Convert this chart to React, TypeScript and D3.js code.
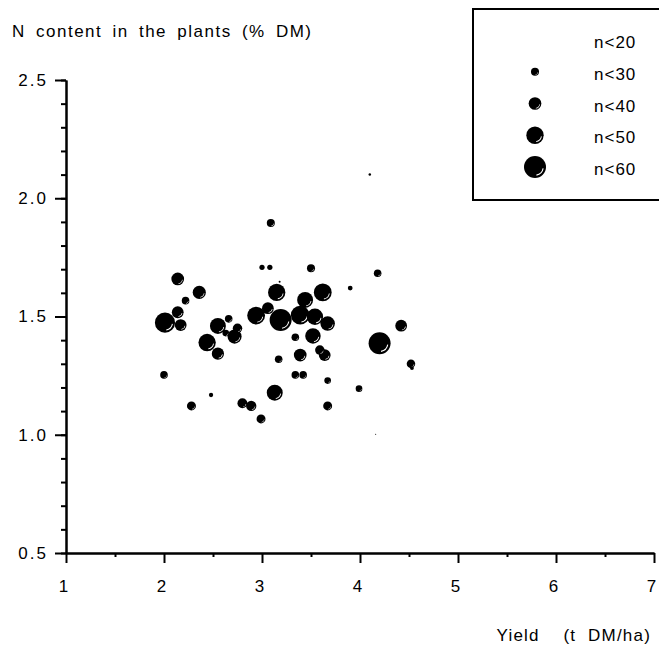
import React, { useEffect, useRef } from 'react';
import * as d3 from 'd3';

// yield (t DM/ha), N content (% DM) and number of samples per bubble
const yieldVals = [
  4.1, 3.09, 3.0, 3.08, 3.5, 3.18, 4.18, 3.9,
  2.14, 2.36, 2.22, 2.01, 2.14, 2.17, 2.55, 2.66, 2.75, 2.72, 2.63, 2.44, 2.55,
  2.94, 3.15, 3.62, 3.06, 3.19, 3.44, 3.39, 3.54, 3.67, 3.34, 3.52, 3.59, 3.64,
  3.39, 3.17, 4.42, 4.2, 4.52, 4.53, 2.0, 3.34, 3.42, 3.67, 3.99, 2.48, 3.13,
  2.28, 2.8, 2.89, 3.67, 2.99, 4.16,
];
const nContent = [
  2.1, 1.895, 1.708, 1.708, 1.704, 1.647, 1.683, 1.62,
  1.659, 1.602, 1.567, 1.474, 1.518, 1.464, 1.46, 1.49, 1.45, 1.415, 1.43, 1.39, 1.343,
  1.504, 1.602, 1.602, 1.535, 1.485, 1.57, 1.506, 1.499, 1.47, 1.412, 1.418, 1.358, 1.337,
  1.337, 1.319, 1.461, 1.387, 1.3, 1.282, 1.253, 1.253, 1.253, 1.229, 1.195, 1.168, 1.178,
  1.122, 1.133, 1.122, 1.122, 1.067, 1.002,
];
const sampleN = [
  13, 25, 19, 19, 25, 12, 24, 18,
  35, 36, 24, 51, 33, 33, 42, 24, 28, 38, 22, 45, 34,
  46, 45, 46, 33, 55, 42, 48, 43, 39, 24, 41, 28, 33,
  35, 24, 33, 55, 26, 16, 24, 24, 24, 22, 22, 17, 42,
  27, 29, 30, 27, 27, 10,
];

const xTicks = [1, 2, 3, 4, 5, 6, 7];
const xMinor = [1.5, 2.5, 3.5, 4.5, 5.5, 6.5];
const yTicks = [0.5, 1.0, 1.5, 2.0, 2.5];
const yMinor = d3.range(5, 26).map(v => v / 10);

const legendLabels = ['n<20', 'n<30', 'n<40', 'n<50', 'n<60'];
const legendN = [7.7, 25, 35, 45, 55];

const W = 659;
const H = 646;
const FONT = '"Liberation Sans", Arial, Helvetica, sans-serif';

export default function App() {
  const svgRef = useRef<SVGSVGElement>(null);

  useEffect(() => {
    if (!svgRef.current) return;
    const svg = d3.select(svgRef.current);
    svg.selectAll('*').remove();

    const x = d3.scaleLinear().domain([1, 7]).range([66, 654]);
    const y = d3.scaleLinear().domain([0.5, 2.5]).range([553, 80]);
    const r = d3.scaleLinear().domain([7.7, 55]).range([0, 11]).clamp(true);
    const deg = Math.PI / 180;
    const shine = d3.arc();

    const styleAxis = (g: any) => {
      g.select('.domain').attr('stroke', '#000').attr('stroke-width', 2);
      g.selectAll('.tick line').attr('stroke', '#000').attr('stroke-width', 2);
      g.selectAll('.tick text')
        .attr('fill', '#000')
        .style('font-family', FONT)
        .style('font-size', '17px')
        .style('letter-spacing', '2px');
    };

    // y axis
    svg.append('g')
      .attr('transform', 'translate(66,0)')
      .call(d3.axisLeft(y).tickValues(yMinor).tickSize(5).tickSizeOuter(0).tickFormat(() => ''))
      .call(styleAxis);
    svg.append('g')
      .attr('transform', 'translate(66,0)')
      .call(d3.axisLeft(y).tickValues(yTicks).tickSize(11).tickSizeOuter(0).tickPadding(7).tickFormat(d3.format('.1f')))
      .call(styleAxis);

    // x axis
    svg.append('g')
      .attr('transform', 'translate(0,553)')
      .call(d3.axisBottom(x).tickValues(xMinor).tickSize(4).tickSizeOuter(0).tickFormat(() => ''))
      .call(styleAxis);
    svg.append('g')
      .attr('transform', 'translate(0,553)')
      .call(d3.axisBottom(x).tickValues(xTicks).tickSize(10).tickSizeOuter(0).tickPadding(17).tickFormat(d3.format('d')))
      .call(styleAxis)
      .selectAll('.tick text')
      .attr('dx', '-2');

    // axis titles
    svg.append('text')
      .attr('x', 12)
      .attr('y', 37)
      .style('font-family', FONT)
      .style('font-size', '17px')
      .style('letter-spacing', '1.5px')
      .style('word-spacing', '4px')
      .text('N content in the plants (% DM)');

    svg.append('text')
      .attr('x', 651)
      .attr('y', 641)
      .attr('text-anchor', 'end')
      .style('font-family', FONT)
      .style('font-size', '17px')
      .style('letter-spacing', '1.2px')
      .style('white-space', 'pre')
      .text('Yield    (t  DM/ha)');

    const drawBubble = (g: any, cx: number, cy: number, rr: number) => {
      if (rr <= 0) return;
      g.append('circle').attr('cx', cx).attr('cy', cy).attr('r', rr).attr('fill', '#000');
      if (rr >= 3) {
        g.append('path')
          .attr('transform', `translate(${cx},${cy})`)
          .attr('d', shine({
            innerRadius: rr * 0.7,
            outerRadius: rr * 0.8,
            startAngle: 100 * deg,
            endAngle: 170 * deg,
          } as any))
          .attr('fill', '#fff');
      }
    };

    // bubbles, biggest first so small ones stay visible
    const order = d3.range(sampleN.length).sort((a, b) => sampleN[b] - sampleN[a]);
    const bubbles = svg.append('g');
    order.forEach(i => {
      drawBubble(bubbles.append('g'), x(yieldVals[i]), y(nContent[i]), r(sampleN[i]));
    });

    // legend
    const legend = svg.append('g');
    legend.append('rect')
      .attr('x', 473)
      .attr('y', 9)
      .attr('width', 200)
      .attr('height', 191)
      .attr('fill', '#fff')
      .attr('stroke', '#000')
      .attr('stroke-width', 2);
    legendLabels.forEach((lab, i) => {
      const base = 48 + i * 31.75;
      drawBubble(legend.append('g'), 535, base - 8, r(legendN[i]));
      legend.append('text')
        .attr('x', 594)
        .attr('y', base)
        .style('font-family', FONT)
        .style('font-size', '17px')
        .style('letter-spacing', '1px')
        .text(lab);
    });
  }, []);

  return (
    <svg
      ref={svgRef}
      width={W}
      height={H}
      style={{ position: 'absolute', left: 0, top: 0, background: '#fff' }}
    ></svg>
  );
}
